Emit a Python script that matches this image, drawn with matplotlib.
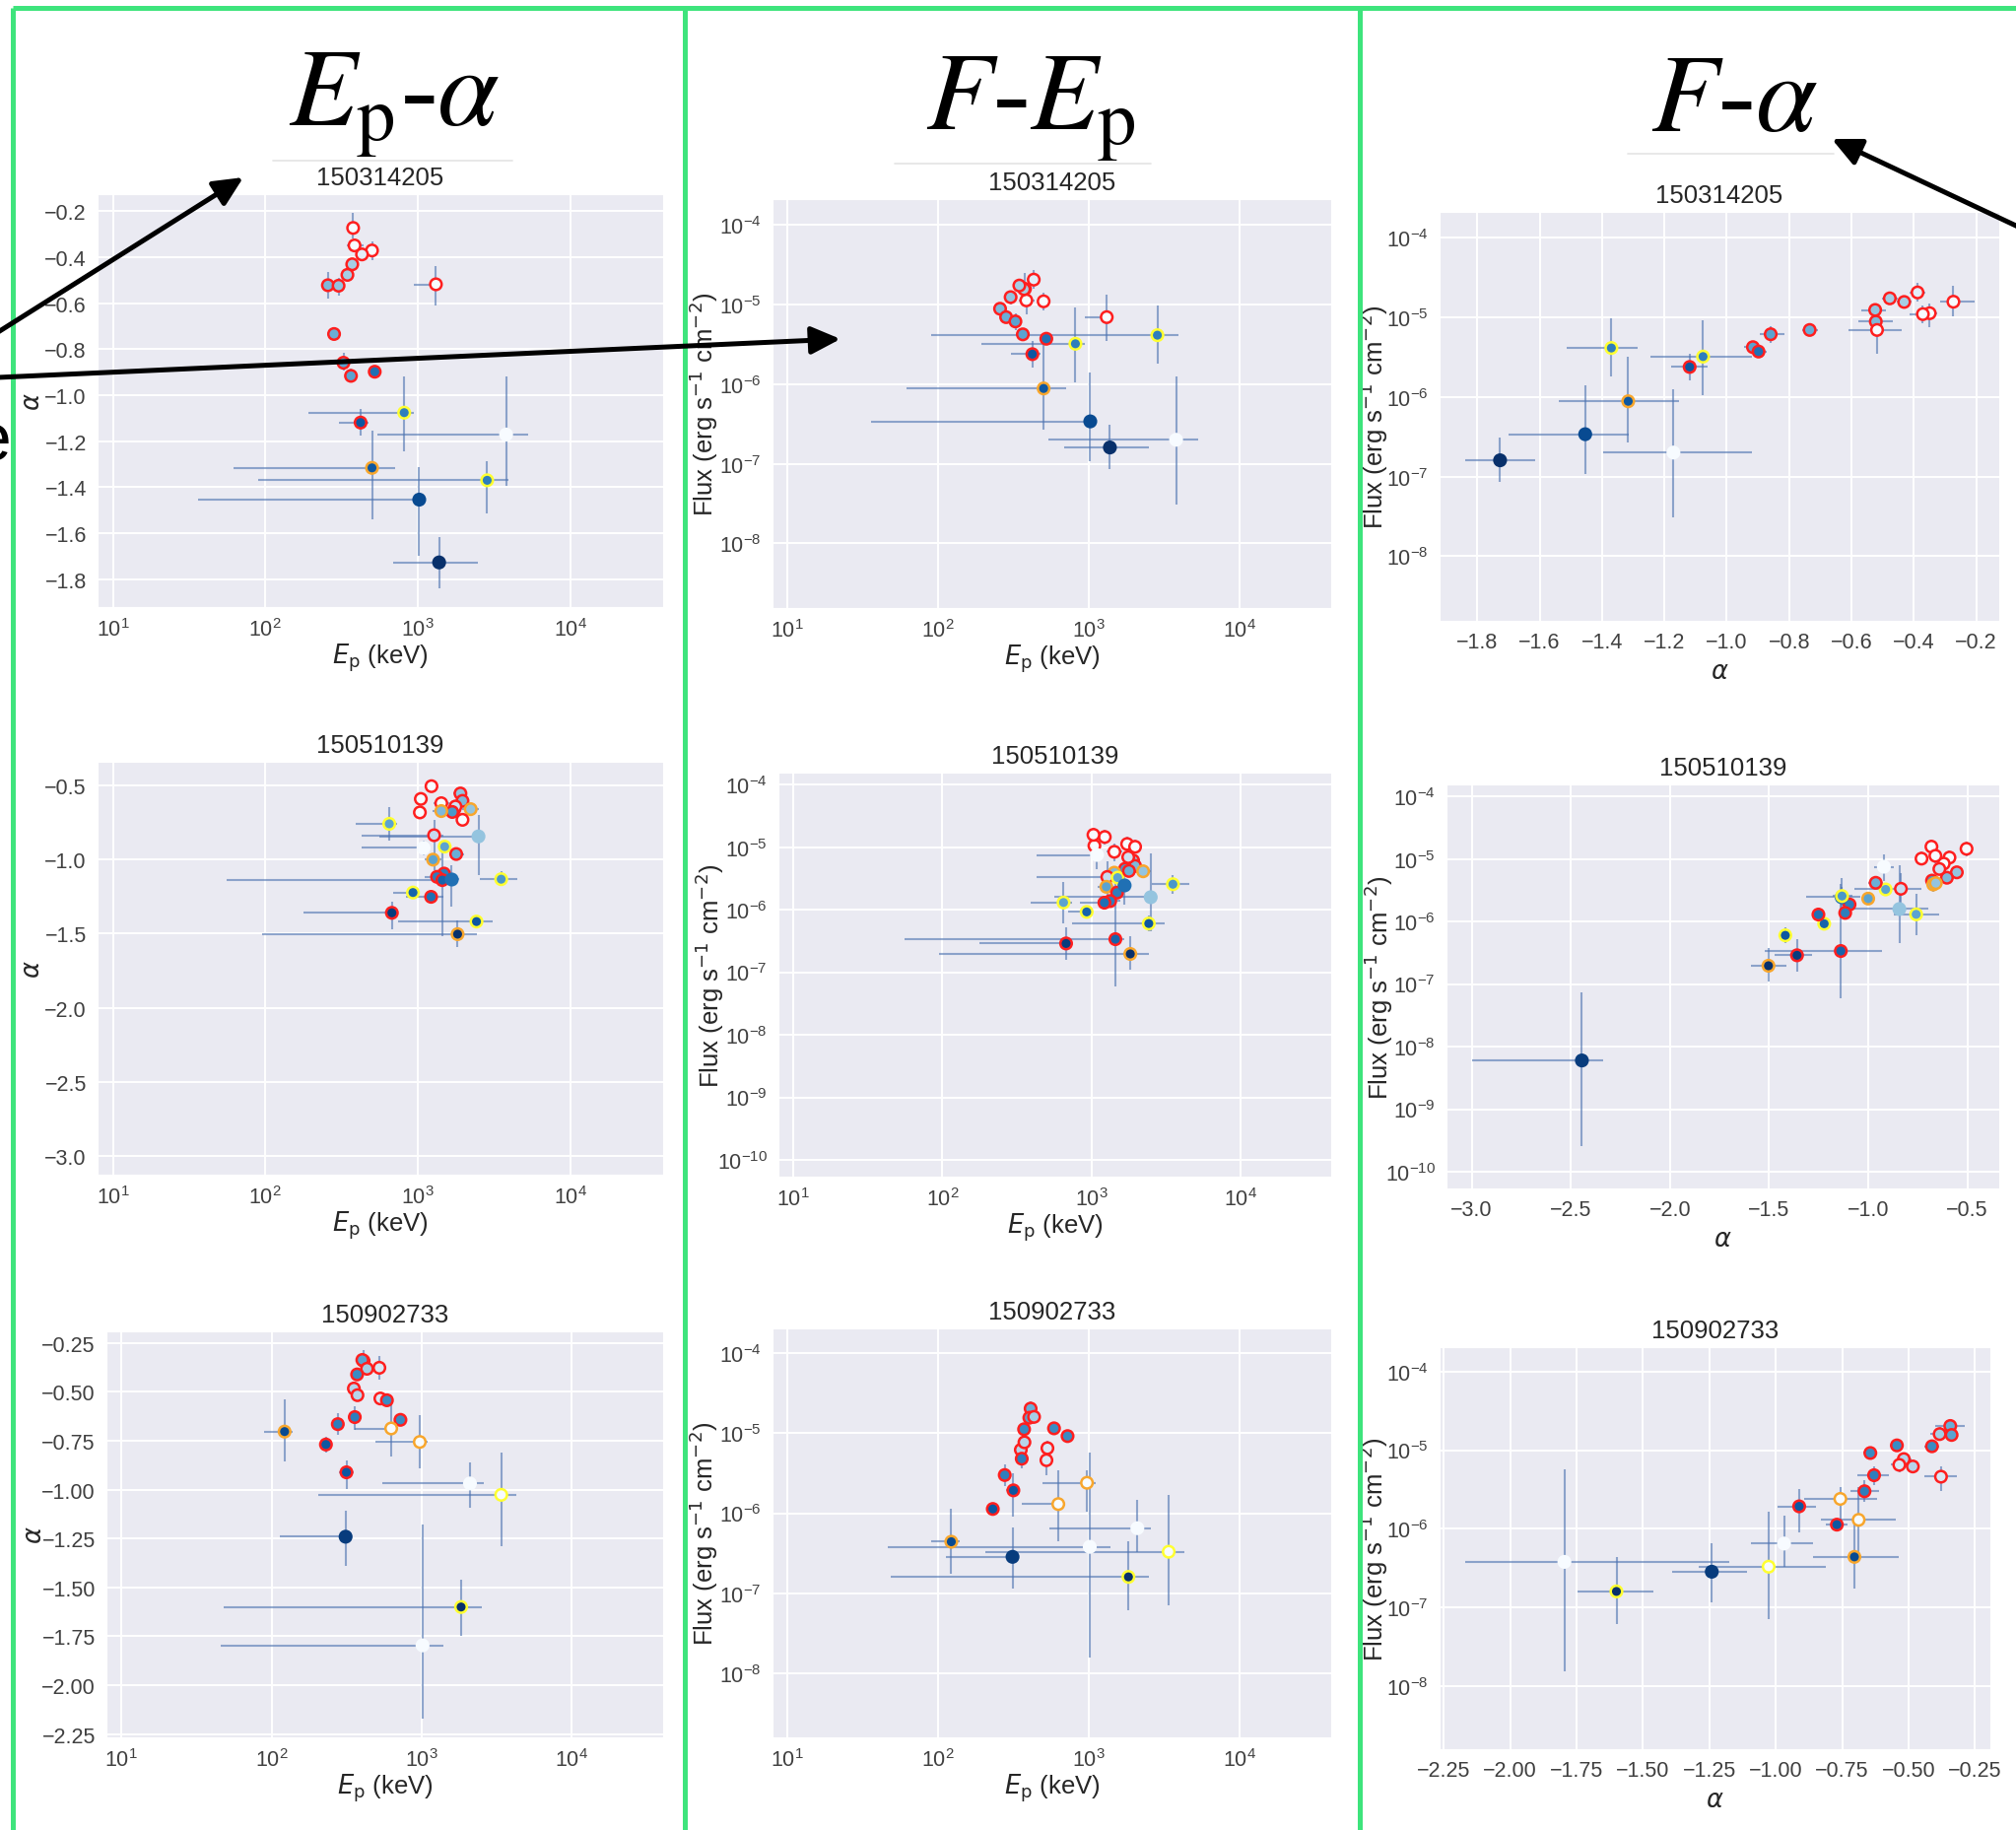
import numpy as np
import matplotlib
matplotlib.use('Agg')
import matplotlib.pyplot as plt
import matplotlib.ticker as mticker
import seaborn as sns

nan = np.nan

# ---- GRB 150314205 ----
grb1_ep = [376, 384, 500, 430, 371, 345, 257, 302, 1312, 282, 325, 364, 521, 421, 813, 2845, 500, 1020, 1377, 3785]
grb1_ep_lo = [355, 340, 470, 405, 350, 325, 240, 285, 946, 266, 305, 342, 492, 302, 192, 90, 62, 36, 684, 542]
grb1_ep_hi = [400, 438, 535, 458, 395, 368, 276, 322, 1435, 300, 347, 388, 552, 474, 935, 3910, 708, 1127, 2490, 5280]
grb1_alpha = [-0.273, -0.349, -0.371, -0.388, -0.431, -0.477, -0.522, -0.524, -0.518, -0.734,
              -0.859, -0.916, -0.898, -1.119, -1.076, -1.370, -1.316, -1.454, -1.727, -1.171]
grb1_alpha_lo = [-0.317, -0.374, -0.414, -0.413, -0.456, -0.502, -0.578, -0.568, -0.611, -0.759,
                 -0.894, -0.946, -0.923, -1.177, -1.244, -1.513, -1.539, -1.700, -1.839, -1.396]
grb1_alpha_hi = [-0.206, -0.324, -0.330, -0.363, -0.406, -0.452, -0.466, -0.488, -0.438, -0.709,
                 -0.816, -0.886, -0.873, -1.061, -0.920, -1.285, -1.154, -1.313, -1.616, -0.920]
grb1_flux = [1.56e-5, 1.12e-5, 1.09e-5, 2.04e-5, 1.55e-5, 1.72e-5, 8.8e-6, 1.23e-5, 6.9e-6, 6.9e-6,
             6.1e-6, 4.2e-6, 3.7e-6, 2.37e-6, 3.2e-6, 4.1e-6, 8.8e-7, 3.4e-7, 1.6e-7, 2.0e-7]
grb1_flux_lo = [1.01e-5, 7.5e-6, 8.3e-6, 1.55e-5, 1.3e-5, 1.45e-5, 7.5e-6, 1.0e-5, 3.5e-6, 6.3e-6,
                4.8e-6, 3.6e-6, 3.2e-6, 1.6e-6, 1.05e-6, 1.78e-6, 2.7e-7, 1.08e-7, 8.5e-8, 3.07e-8]
grb1_flux_hi = [2.46e-5, 1.5e-5, 1.4e-5, 2.7e-5, 1.85e-5, 2.0e-5, 1.05e-5, 1.5e-5, 1.31e-5, 7.6e-6,
                7.6e-6, 5.0e-6, 4.3e-6, 3.5e-6, 9.2e-6, 9.75e-6, 3.2e-6, 1.39e-6, 3.1e-7, 1.23e-6]
grb1_shade = [0.0, 0.0, 0.0, 0.1, 0.35, 0.35, 0.45, 0.4, 0.0, 0.5,
              0.55, 0.55, 0.75, 0.85, 0.7, 0.7, 0.85, 0.9, 1.0, 0.0]
grb1_edge = list('rrrrrrrrrrrrrryyonnn')

# ---- GRB 150510139 ----
grb2_ep = [1227, 1045, 1030, 1423, 1900, 1960, 1733, 1763, 1679, 1423, 2218, 1960, 649, 1276, 2494,
           1088, 1497, 1782, 1257, 1483, 1334, 1445, 1667, 3514, 928, 1220, 675, 2421, 1820, nan]
grb2_ep_lo = [1120, 960, 950, 1260, 1700, 1780, 1580, 1600, 1520, 1250, 1950, 1800, 391, 430, 560,
              425, 1380, 1600, 1100, 1350, 1100, 56, 1500, 2550, 692, 832, 177, 741, 95, nan]
grb2_ep_hi = [1340, 1130, 1110, 1600, 2100, 2150, 1900, 1930, 1850, 1620, 2500, 2150, 735, 1470, 2700,
              1200, 1620, 2000, 1420, 1620, 1560, 1650, 1850, 4510, 1015, 1472, 700, 3090, 2420, nan]
grb2_alpha = [-0.504, -0.590, -0.681, -0.619, -0.553, -0.603, -0.661, -0.641, -0.678, -0.672,
              -0.659, -0.731, -0.758, -0.835, -0.843, -0.921, -0.912, -0.962, -1.000, -1.094,
              -1.116, -1.138, -1.134, -1.132, -1.222, -1.251, -1.359, -1.418, -1.503, -2.444]
grb2_alpha_lo = [-0.530, -0.615, -0.705, -0.645, -0.580, -0.630, -0.690, -0.670, -0.705, -0.700,
                 -0.690, -0.760, -0.873, -1.070, -1.106, -0.970, -0.940, -1.000, -1.030, -1.120,
                 -1.145, -1.520, -1.315, -1.180, -1.250, -1.280, -1.473, -1.450, -1.593, -3.000]
grb2_alpha_hi = [-0.480, -0.565, -0.655, -0.595, -0.525, -0.575, -0.635, -0.615, -0.650, -0.645,
                 -0.630, -0.700, -0.643, -0.730, -0.698, -0.870, -0.880, -0.925, -0.970, -1.065,
                 -1.090, -0.930, -1.040, -1.080, -1.195, -1.220, -1.283, -1.390, -1.413, -2.335]
grb2_flux = [1.45e-5, 1.05e-5, 1.57e-5, 8.4e-6, 6.1e-6, 5.0e-6, 1.12e-5, 6.9e-6, 4.5e-6, 3.9e-6,
             4.1e-6, 1.01e-5, 1.3e-6, 3.33e-6, 1.58e-6, 7.5e-6, 3.25e-6, 4.15e-6, 2.32e-6, 1.87e-6,
             1.37e-6, 3.37e-7, 2.44e-6, 2.55e-6, 9.2e-7, 1.29e-6, 2.88e-7, 6.0e-7, 1.96e-7, 6.0e-9]
grb2_flux_lo = [1.1e-5, 8.0e-6, 1.2e-5, 6.0e-6, 4.8e-6, 4.0e-6, 8.5e-6, 5.5e-6, 3.6e-6, 3.0e-6,
                3.2e-6, 8.0e-6, 6.0e-7, 1.5e-6, 4.5e-7, 4.5e-6, 2.6e-6, 3.3e-6, 1.9e-6, 1.5e-6,
                1.1e-6, 6.0e-8, 1.2e-6, 1.8e-6, 7.8e-7, 1.1e-6, 1.6e-7, 4.5e-7, 1.1e-7, 2.6e-10]
grb2_flux_hi = [1.9e-5, 1.35e-5, 2.0e-5, 1.15e-5, 7.6e-6, 6.2e-6, 1.45e-5, 8.6e-6, 5.6e-6, 5.0e-6,
                5.2e-6, 1.3e-5, 2.8e-6, 6.0e-6, 8.0e-6, 1.2e-5, 4.0e-6, 5.2e-6, 2.8e-6, 2.3e-6,
                1.7e-6, 4.0e-6, 5.0e-6, 3.6e-6, 1.1e-6, 1.5e-6, 5.2e-7, 8.0e-7, 3.7e-7, 7.4e-8]
grb2_shade = [0.0, 0.0, 0.0, 0.0, 0.4, 0.45, 0.0, 0.2, 0.6, 0.45,
              0.4, 0.0, 0.55, 0.25, 0.4, 0.0, 0.55, 0.5, 0.55, 0.7,
              0.7, 0.8, 0.75, 0.6, 0.8, 0.75, 0.95, 0.85, 1.0, 0.95]
grb2_edge = list('rrrrrrrrrooryrnnyrorrrnyyrryonn')[:30]

# ---- GRB 150902733 ----
grb3_ep = [410, 402, 432, 522, 371, 353, 373, 530, 586, 358, 721, 276, 626, 122, 230, 970, 315, 2094, 3382, 311, 1828, 1012]
grb3_ep_lo = [385, 380, 405, 490, 350, 335, 355, 500, 555, 340, 680, 262, 360, 89, 210, 490, 280, 550, 205, 113, 48, 46]
grb3_ep_hi = [435, 425, 460, 555, 395, 372, 392, 560, 620, 378, 765, 292, 697, 138, 250, 1100, 350, 2570, 4270, 330, 2506, 1390]
grb3_alpha = [-0.343, -0.338, -0.383, -0.378, -0.412, -0.484, -0.518, -0.535, -0.544, -0.630, -0.644,
              -0.666, -0.688, -0.704, -0.770, -0.757, -0.912, -0.969, -1.027, -1.241, -1.600, -1.796]
grb3_alpha_lo = [-0.400, -0.360, -0.420, -0.440, -0.440, -0.510, -0.545, -0.565, -0.570, -0.693, -0.670,
                 -0.720, -0.830, -0.858, -0.810, -0.894, -0.995, -1.095, -1.290, -1.392, -1.745, -2.171]
grb3_alpha_hi = [-0.290, -0.315, -0.350, -0.320, -0.385, -0.460, -0.490, -0.505, -0.520, -0.575, -0.620,
                 -0.611, -0.547, -0.538, -0.730, -0.620, -0.849, -0.860, -0.810, -1.108, -1.460, -1.177]
grb3_flux = [2.03e-5, 1.56e-5, 1.6e-5, 4.6e-6, 1.12e-5, 6.2e-6, 7.7e-6, 6.5e-6, 1.15e-5, 4.8e-6, 9.2e-6,
             3.0e-6, 1.3e-6, 4.4e-7, 1.13e-6, 2.4e-6, 1.93e-6, 6.5e-7, 3.3e-7, 2.85e-7, 1.6e-7, 3.8e-7]
grb3_flux_lo = [1.65e-5, 1.3e-5, 1.3e-5, 3.0e-6, 9.5e-6, 5.2e-6, 6.5e-6, 5.3e-6, 1.0e-5, 3.6e-6, 7.8e-6,
                2.2e-6, 4.5e-7, 1.74e-7, 9.5e-7, 1.05e-6, 9.0e-7, 3.3e-7, 7.1e-8, 1.15e-7, 6.2e-8, 1.56e-8]
grb3_flux_hi = [2.5e-5, 1.85e-5, 2.0e-5, 6.3e-6, 1.3e-5, 7.3e-6, 9.0e-6, 8.0e-6, 1.35e-5, 6.2e-6, 1.08e-5,
                4.1e-6, 3.4e-6, 1.13e-6, 1.35e-6, 3.4e-6, 3.2e-6, 1.47e-6, 1.67e-6, 6.6e-7, 4.4e-7, 5.7e-6]
grb3_shade = [0.5, 0.55, 0.35, 0.15, 0.65, 0.3, 0.3, 0.15, 0.65, 0.7, 0.65,
              0.7, 0.0, 0.9, 0.85, 0.0, 0.85, 0.0, 0.0, 0.95, 1.0, 0.0]
grb3_edge = list('rrrrrrrrrrrroorornynynn')[:22]

grb_names = ['150314205', '150510139', '150902733']
column_titles = [r'$E_{\rm p}$-$\alpha$', r'$F$-$E_{\rm p}$', r'$F$-$\alpha$']

# ---- figure layout (pixels, origin top-left) ----
W, H = 2046, 1858
sns.set_style('darkgrid')
plt.rcParams['font.family'] = ['Liberation Sans', 'DejaVu Sans']

fig = plt.figure(figsize=(W / 100, H / 100), dpi=100)
fig.patch.set_facecolor('white')


def px_axes(x0, y0, x1, y1):
    return fig.add_axes([x0 / W, 1 - y1 / H, (x1 - x0) / W, (y1 - y0) / H])


boxes = [
    [(99, 198, 673, 617), (784, 203, 1351, 618), (1461, 216, 2029, 631)],
    [(99, 774, 673, 1193), (790, 785, 1351, 1195), (1468, 797, 2029, 1207)],
    [(108, 1352, 673, 1764), (784, 1349, 1351, 1764), (1461, 1368, 2020, 1776)],
]

ep_lim = (7.94, 4.05e4)
alpha_lims = [(-1.921, -0.126), (-3.127, -0.339), (-2.266, -0.192)]
flux_lims = [(1.55e-9, 2.09e-4), (5.4e-11, 1.55e-4), (1.58e-9, 2.04e-4)]
alpha_steps = [0.2, 0.5, 0.25]

cmap = plt.get_cmap('Blues')
edge_colors = {'r': '#ff1f1f', 'y': '#ffff30', 'o': '#f8a62c'}
flux_label = r'Flux (erg s$^{-1}$ cm$^{-2}$)'
ep_label = r'$E_{\rm p}$ (keV)'


def draw_points(ax, x, xlo, xhi, y, ylo, yhi, shade, edge):
    x, xlo, xhi = np.asarray(x, float), np.asarray(xlo, float), np.asarray(xhi, float)
    y, ylo, yhi = np.asarray(y, float), np.asarray(ylo, float), np.asarray(yhi, float)
    ok = np.isfinite(x) & np.isfinite(y)
    x, xlo, xhi, y, ylo, yhi = x[ok], xlo[ok], xhi[ok], y[ok], ylo[ok], yhi[ok]
    face = cmap(np.asarray(shade, float)[ok])
    ec = [edge_colors.get(e, face[i]) for i, e in enumerate(np.asarray(edge)[ok])]
    ax.errorbar(x, y, xerr=[x - xlo, xhi - x], yerr=[y - ylo, yhi - y], fmt='none',
                ecolor='#4c72b0', elinewidth=1.5, alpha=0.6, capsize=0, zorder=2)
    ax.scatter(x, y, s=70, c=face, edgecolors=ec, linewidths=1.8, zorder=3)


def style(ax, title, w, h, xlabel, ylabel, ylab_dx):
    ax.set_title(title, fontsize=18.5, color='.15', pad=7)
    ax.tick_params(axis='both', which='major', labelsize=15.5, pad=8, length=0, labelcolor='.25')
    ax.grid(True, which='major', color='white', lw=1.4)
    ax.set_xlabel(xlabel, fontsize=18.5, color='.15', va='center')
    ax.set_ylabel(ylabel, fontsize=18.5, color='.15', va='center')
    ax.xaxis.set_label_coords(0.5, -51 / h)
    ax.yaxis.set_label_coords(-ylab_dx / w, 0.5)


def log_ticks(axis):
    axis.set_major_locator(mticker.LogLocator(base=10, numticks=20))
    axis.set_minor_locator(mticker.NullLocator())


grb_data = [
    (grb1_ep, grb1_ep_lo, grb1_ep_hi, grb1_alpha, grb1_alpha_lo, grb1_alpha_hi,
     grb1_flux, grb1_flux_lo, grb1_flux_hi, grb1_shade, grb1_edge),
    (grb2_ep, grb2_ep_lo, grb2_ep_hi, grb2_alpha, grb2_alpha_lo, grb2_alpha_hi,
     grb2_flux, grb2_flux_lo, grb2_flux_hi, grb2_shade, grb2_edge),
    (grb3_ep, grb3_ep_lo, grb3_ep_hi, grb3_alpha, grb3_alpha_lo, grb3_alpha_hi,
     grb3_flux, grb3_flux_lo, grb3_flux_hi, grb3_shade, grb3_edge),
]

for row, (ep, ep_lo, ep_hi, al, al_lo, al_hi, fl, fl_lo, fl_hi, shade, edge) in enumerate(grb_data):
    name = grb_names[row]

    # Ep - alpha
    x0, y0, x1, y1 = boxes[row][0]
    ax = px_axes(x0, y0, x1, y1)
    draw_points(ax, ep, ep_lo, ep_hi, al, al_lo, al_hi, shade, edge)
    ax.set_xscale('log')
    ax.set_xlim(ep_lim)
    ax.set_ylim(alpha_lims[row])
    log_ticks(ax.xaxis)
    ax.yaxis.set_major_locator(mticker.MultipleLocator(alpha_steps[row]))
    style(ax, name, x1 - x0, y1 - y0, ep_label, r'$\alpha$', 73 if row == 2 else 66)

    # F - Ep
    x0, y0, x1, y1 = boxes[row][1]
    ax = px_axes(x0, y0, x1, y1)
    draw_points(ax, ep, ep_lo, ep_hi, fl, fl_lo, fl_hi, shade, edge)
    ax.set_xscale('log')
    ax.set_yscale('log')
    ax.set_xlim(ep_lim)
    ax.set_ylim(flux_lims[row])
    log_ticks(ax.xaxis)
    log_ticks(ax.yaxis)
    style(ax, name, x1 - x0, y1 - y0, ep_label, flux_label, 70)

    # F - alpha
    x0, y0, x1, y1 = boxes[row][2]
    ax = px_axes(x0, y0, x1, y1)
    draw_points(ax, al, al_lo, al_hi, fl, fl_lo, fl_hi, shade, edge)
    ax.set_yscale('log')
    ax.set_xlim(alpha_lims[row])
    ax.set_ylim(flux_lims[row])
    log_ticks(ax.yaxis)
    ax.xaxis.set_major_locator(mticker.MultipleLocator(alpha_steps[row]))
    style(ax, name, x1 - x0, y1 - y0, r'$\alpha$', flux_label, 67 if row != 1 else 69)

# ---- overlay: frame, column headings, arrows ----
ov = fig.add_axes([0, 0, 1, 1], zorder=10)
ov.set_xlim(0, W)
ov.set_ylim(H, 0)
ov.axis('off')

green = '#3ee47c'
for xs, ys in [([13, W + 10], [9, 9]), ([13, 13], [9, H + 10]),
               ([695, 695], [9, H + 10]), ([1380, 1380], [9, H + 10])]:
    ov.plot(xs, ys, color=green, lw=3.6, solid_capstyle='butt', clip_on=False)

heading_pos = [(400, 127), (1046, 131), (1760, 133)]
rule_pos = [(277, 520, 164), (908, 1168, 167), (1652, 1861, 157)]
for text, (hx, hy), (rx0, rx1, ry) in zip(column_titles, heading_pos, rule_pos):
    ov.text(hx, hy, text, fontsize=81, ha='center', va='baseline', color='black',
            family='Liberation Serif', math_fontfamily='stix')
    ov.plot([rx0, rx1], [ry, ry], color='#e4e4e4', lw=1.2)

arrow_kw = dict(arrowstyle='-|>,head_length=1.8,head_width=0.85', mutation_scale=10,
                lw=3.6, color='black', shrinkA=0, shrinkB=0)
for tail, tip in [((-2, 338), (247, 181)), ((-2, 384), (853, 345)), ((W + 2, 231), (1859, 142))]:
    ov.annotate('', xy=tip, xytext=tail, arrowprops=arrow_kw, annotation_clip=False)

# partial glyph running in from the left edge
ov.text(12, 467, 'e', fontsize=50, ha='right', va='baseline', color='black',
        family='Liberation Sans')

fig.savefig('out.png', dpi=100, facecolor='white')
